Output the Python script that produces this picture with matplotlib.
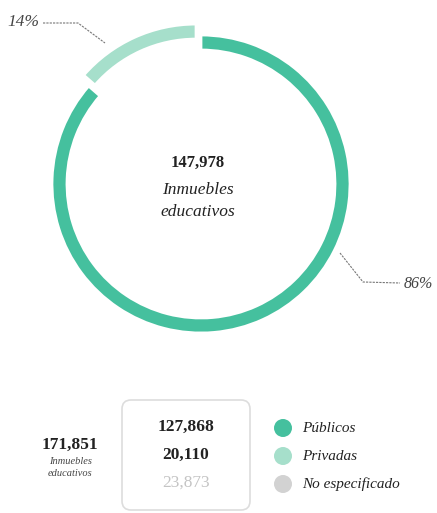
import matplotlib.pyplot as plt
from matplotlib.patches import FancyBboxPatch, Circle

# data
labels = ['Privadas', 'Públicos']
values = [20110, 127868]
pcts = ['14%', '86%']
total_cat = '147,978'
total_all = '171,851'
legend_labels = ['Públicos', 'Privadas', 'No especificado']
legend_values = ['127,868', '20,110', '23,873']

dark = '#45c09e'
light = '#a6dfcb'
grey = '#d2d2d2'

W, H = 437, 513
fig = plt.figure(figsize=(W / 100, H / 100), dpi=100)
ax = fig.add_axes([0, 0, 1, 1])

def y(py):
    # pixel row -> data y
    return H - py

# donut (explode is in data units here since radius is in pixels)
cx, cy, R = 201, y(184), 149
ax.pie(values, colors=[light, dark], startangle=90, counterclock=True,
       radius=R, center=(cx, cy), explode=[12, 0],
       wedgeprops=dict(width=15, linewidth=2, edgecolor='white'))

serif = 'Liberation Serif'
ax.text(cx - 3, y(163), total_cat, ha='center', va='center', fontsize=12,
        fontweight='bold', family=serif, color='#222222')
ax.text(cx - 3, y(190), 'Inmuebles', ha='center', va='center', fontsize=12.5,
        style='italic', family=serif, color='#222222')
ax.text(cx - 3, y(212), 'educativos', ha='center', va='center', fontsize=12.5,
        style='italic', family=serif, color='#222222')

# leaders
ax.plot([43, 78, 105], [y(23), y(23), y(43)], color='#777777', lw=0.8, ls=(0, (2, 1)))
ax.text(7, y(22), pcts[0], ha='left', va='center', fontsize=12.5, style='italic',
        family=serif, color='#444444')
ax.plot([340, 363, 400], [y(253), y(282), y(283)], color='#777777', lw=0.8, ls=(0, (2, 1)))
ax.text(404, y(284), pcts[1], ha='left', va='center', fontsize=11.5, style='italic',
        family=serif, color='#444444')

# bottom summary
ax.text(70, y(445), total_all, ha='center', va='center', fontsize=12.5,
        fontweight='bold', family=serif, color='#222222')
ax.text(70, y(462), 'Inmuebles', ha='center', va='center', fontsize=7.5,
        style='italic', family=serif, color='#444444')
ax.text(70, y(473), 'educativos', ha='center', va='center', fontsize=7.5,
        style='italic', family=serif, color='#444444')

box = FancyBboxPatch((122, y(510)), 128, 110, boxstyle='round,pad=0,rounding_size=9',
                     facecolor='white', edgecolor='#dddddd', lw=1.2)
ax.add_patch(box)

val_colors = ['#222222', '#222222', '#c4c4c4']
dot_colors = [dark, light, grey]
rows = [427, 455, 483]
for i in range(3):
    ax.text(186, y(rows[i]), legend_values[i], ha='center', va='center', fontsize=12.5,
            fontweight='bold' if i < 2 else 'normal', family=serif, color=val_colors[i])
    ax.add_patch(Circle((283, y(rows[i] + 1)), 9, facecolor=dot_colors[i], edgecolor='none'))
    ax.text(302, y(rows[i] + 1), legend_labels[i], ha='left', va='center', fontsize=11,
            style='italic', family=serif, color='#222222')

ax.set_xlim(0, W)
ax.set_ylim(0, H)
ax.set_aspect('auto')
ax.axis('off')

fig.savefig('out.png', dpi=100)
